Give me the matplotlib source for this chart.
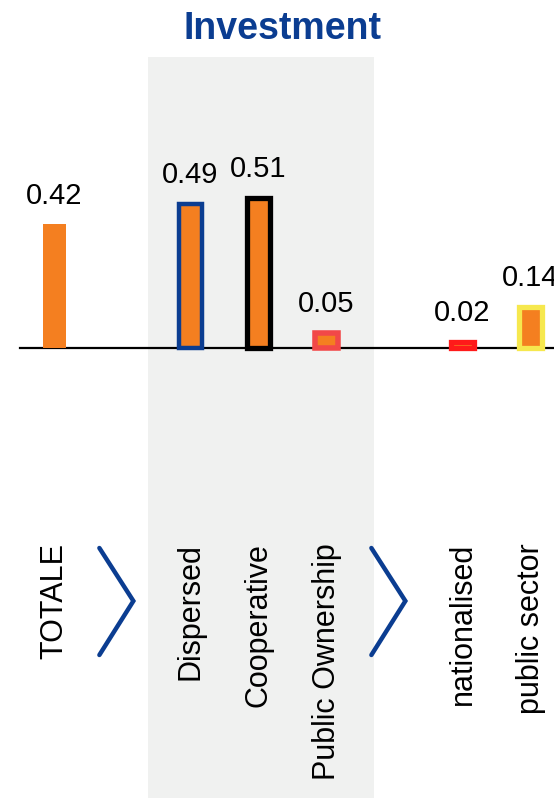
import matplotlib
matplotlib.use("Agg")
import matplotlib.pyplot as plt

plt.rcParams['font.family'] = ['Liberation Sans', 'DejaVu Sans']

# Data
categories = ["TOTALE", "", "Dispersed", "Cooperative", "Public Ownership", "", "nationalised", "public sector"]
values = [0.42, None, 0.49, 0.51, 0.05, None, 0.02, 0.14]
edge_colors = [None, None, "#0B3D91", "#000000", "#F24848", None, "#FF1A1A", "#F6E84E"]
edge_widths = [0, 0, 3.2, 3.8, 4.0, 0, 3.8, 3.8]
arrow_slots = [1, 5]
title = "Investment"

BAR_COLOR = "#F47F20"
BLUE = "#0B3D91"

W, H = 554, 798
fig = plt.figure(figsize=(W / 100, H / 100), dpi=100)
ax = fig.add_axes([0, 0, 1, 1])

# pixel-based layout: slot 0 centred at x=54.5 px, 68 px per slot; baseline at y=348 px from top
px_per_slot = 68.0
x0_px = 54.5
px_per_unit = 294.5
base_px = 348.0
ax.set_xlim(-x0_px / px_per_slot, (W - x0_px) / px_per_slot)
ax.set_ylim(-(H - base_px) / px_per_unit, base_px / px_per_unit)
ax.axis("off")

def py(p):
    """y pixel from top -> data y"""
    return (base_px - p) / px_per_unit

def px(p):
    return (p - x0_px) / px_per_slot

# shaded group band
ax.fill_between([px(148), px(374)], [py(W * 0 + 798)] * 2, [py(57)] * 2,
                color="#F0F1F0", zorder=0, lw=0)

# baseline
ax.plot([px(20), px(W + 5)], [0, 0], color="black", lw=1.6, zorder=2)

bar_w = 23 / px_per_slot
for i, (cat, v) in enumerate(zip(categories, values)):
    if v is None:
        continue
    ec = edge_colors[i]
    lw = edge_widths[i]
    ax.bar(i, v, width=bar_w, color=BAR_COLOR,
           edgecolor=ec if ec else BAR_COLOR, linewidth=lw, zorder=3)
    pad = 14 / px_per_unit if lw == 0 else (12 + 3) / px_per_unit
    ax.text(i, v + pad, f"{v:.2f}", ha="center", va="bottom",
            fontsize=21, color="black", zorder=4)

# category labels
for i, cat in enumerate(categories):
    if cat:
        ax.text(i, py(543), cat, rotation=90, ha="center", va="top",
                fontsize=22, color="black", rotation_mode="anchor" if False else "default")

# chevrons between groups
for s in arrow_slots:
    xs = [s - 0.34, s + 0.16, s - 0.34]
    ys = [py(548), py(601), py(655)]
    ax.plot(xs, ys, color=BLUE, lw=3.2, solid_capstyle="round",
            solid_joinstyle="miter", zorder=3)

fig.text(283 / W, 1 - 29 / H, title, ha="center", va="center",
         fontsize=27, fontweight="bold", color=BLUE)

fig.savefig("out.png", dpi=100)
